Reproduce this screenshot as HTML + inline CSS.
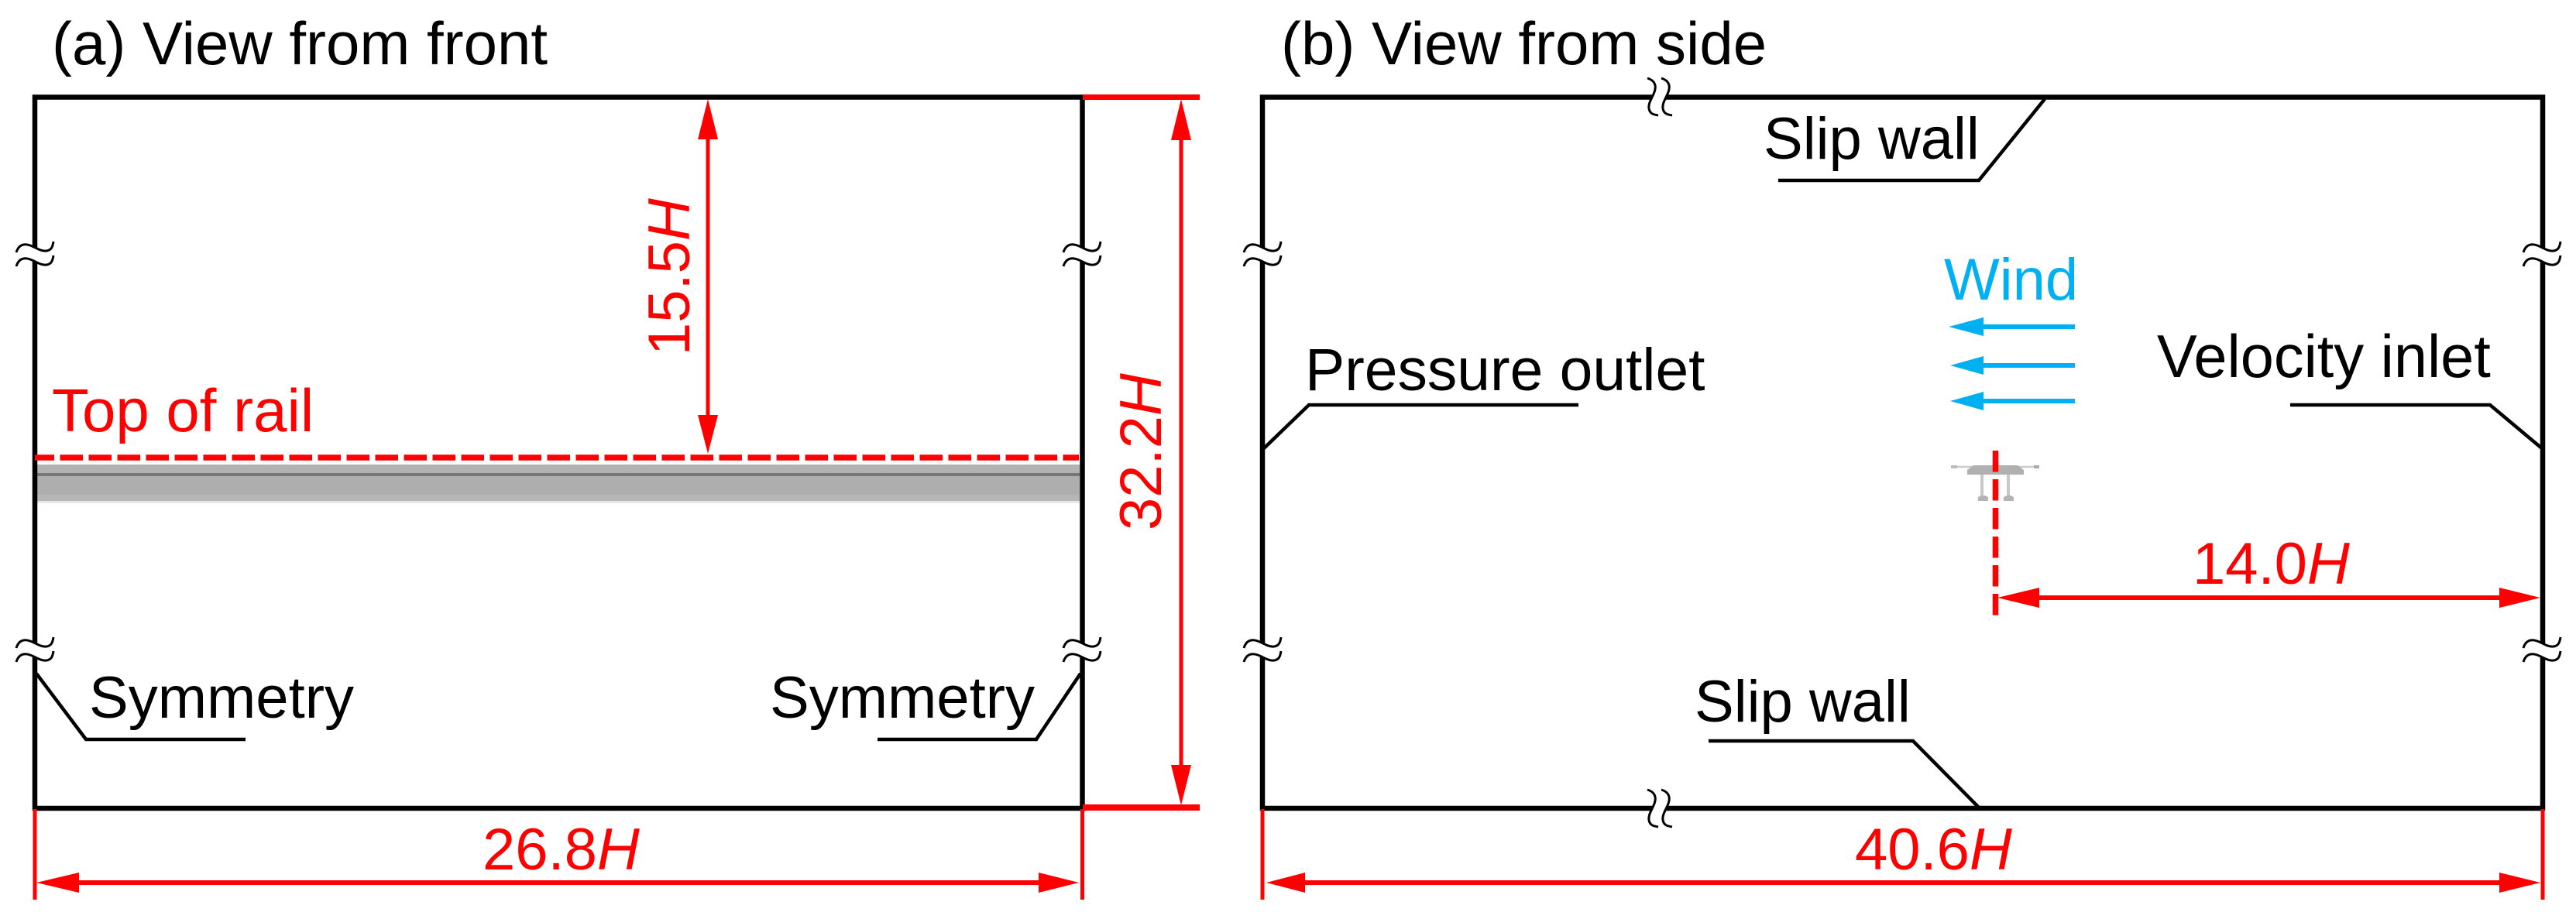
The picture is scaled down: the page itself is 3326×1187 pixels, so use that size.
<!DOCTYPE html>
<html>
<head>
<meta charset="utf-8">
<style>
html,body{margin:0;padding:0;background:#fff;width:3326px;height:1187px;overflow:hidden}
svg{display:block}
text{font-family:"Liberation Sans",Arial,sans-serif;font-size:76px}
.k{fill:#000}.r{fill:#f00}.b{fill:#00b0f0}
</style>
</head>
<body>
<svg width="3326" height="1187" viewBox="0 0 3326 1187" xmlns="http://www.w3.org/2000/svg">
<defs>
<g id="brk">
<rect x="-9" y="-9" width="18" height="18" fill="#fff"/>
<path d="M-24,-3 C-21,-13 -14,-15 -6,-12 S8,-4 15,-5 S23,-11 24,-17" fill="none" stroke="#000" stroke-width="3"/>
<path d="M-24,15 C-21,5 -14,3 -6,6 S8,14 15,13 S23,7 24,1" fill="none" stroke="#000" stroke-width="3"/>
</g>
</defs>
<rect width="3326" height="1187" fill="#fff"/>

<!-- rail band -->
<rect x="48" y="600" width="1346" height="11" fill="#b2b2b2"/>
<rect x="48" y="611" width="1346" height="4" fill="#777"/>
<rect x="48" y="615" width="1346" height="24" fill="#aeaeae"/>
<rect x="48" y="639" width="1346" height="8" fill="#b6b6b6"/>
<rect x="48" y="647" width="1346" height="3" fill="#e8e8e8"/>

<!-- frames -->
<rect x="45" y="125.5" width="1352.5" height="918.5" fill="none" stroke="#000" stroke-width="6.5"/>
<rect x="1630" y="125.5" width="1653" height="918.5" fill="none" stroke="#000" stroke-width="6.5"/>

<!-- breaks -->
<use href="#brk" transform="translate(45,329)"/>
<use href="#brk" transform="translate(45,840)"/>
<use href="#brk" transform="translate(1397,329)"/>
<use href="#brk" transform="translate(1397,840)"/>
<use href="#brk" transform="translate(1630,329)"/>
<use href="#brk" transform="translate(1630,840)"/>
<use href="#brk" transform="translate(3282,329)"/>
<use href="#brk" transform="translate(3282,840)"/>
<use href="#brk" transform="translate(2142,125) rotate(90)"/>
<use href="#brk" transform="translate(2142,1044) rotate(90)"/>

<!-- leaders -->
<g fill="none" stroke="#000" stroke-width="4.5">
<polyline points="47,870 111,955 317,955"/>
<polyline points="1395,870 1338,955 1133,955"/>
<polyline points="2640,128 2555,233 2296,233"/>
<polyline points="1632,579 1690,523 2038,523"/>
<polyline points="3283,580 3215,523 2957,523"/>
<polyline points="2555,1043 2470,957 2206,957"/>
</g>

<!-- titles and labels -->
<text class="k" x="67" y="83" style="font-size:78px">(a) View from front</text>
<text class="k" x="1654" y="83" style="font-size:78px">(b) View from side</text>
<text class="k" x="115" y="927">Symmetry</text>
<text class="k" x="994" y="927">Symmetry</text>
<text class="k" x="2277" y="205">Slip wall</text>
<text class="k" x="2188" y="932">Slip wall</text>
<text class="k" x="1685" y="504" style="font-size:76.8px">Pressure outlet</text>
<text class="k" x="2785" y="487" style="font-size:77.5px">Velocity inlet</text>
<text class="b" x="2510" y="387">Wind</text>
<text class="r" x="67" y="557" style="font-size:78px">Top of rail</text>
<text class="r" x="623" y="1123">26.8<tspan font-style="italic">H</tspan></text>
<text class="r" x="2395" y="1123">40.6<tspan font-style="italic">H</tspan></text>
<text class="r" x="2831" y="754">14.0<tspan font-style="italic">H</tspan></text>
<text class="r" transform="translate(890,459) rotate(-90)">15.5<tspan font-style="italic">H</tspan></text>
<text class="r" transform="translate(1499,685) rotate(-90)">32.2<tspan font-style="italic">H</tspan></text>

<!-- wind arrows -->
<g fill="#00b0f0">
<rect x="2555" y="419" width="124" height="6"/>
<rect x="2555" y="469" width="124" height="6"/>
<rect x="2555" y="515" width="124" height="6"/>
<polygon points="2516,422 2561,410 2561,434"/>
<polygon points="2518,472 2561,460 2561,484"/>
<polygon points="2518,518 2561,506 2561,530"/>
</g>

<!-- drone -->
<g>
<line x1="2523" y1="603" x2="2630" y2="603" stroke="#ccc" stroke-width="2.5"/>
<rect x="2519" y="601" width="8" height="4" fill="#bbb"/>
<rect x="2626" y="601" width="7" height="4" fill="#aaa"/>
<polygon points="2540,613 2540,607 2548,601 2605,601 2613,607 2613,613" fill="#b0b0b0"/>
<rect x="2557" y="613" width="4" height="28" fill="#c8c8c8"/>
<rect x="2591" y="613" width="4" height="28" fill="#c8c8c8"/>
<polygon points="2554,647 2554,642 2558,640 2563,640 2567,642 2567,647" fill="#b4b4b4"/>
<polygon points="2587,647 2587,642 2591,640 2596,640 2600,642 2600,647" fill="#b4b4b4"/>
</g>

<!-- dashed red -->
<line x1="45" y1="591" x2="1393" y2="591" stroke="#f00" stroke-width="7.5" stroke-dasharray="29.5 7.5" stroke-dashoffset="4.5"/>
<line x1="2576.5" y1="582" x2="2576.5" y2="795" stroke="#f00" stroke-width="7.5" stroke-dasharray="27.5 9.5"/>

<!-- red dimensions -->
<g fill="#f00">
<!-- 15.5H -->
<rect x="911.5" y="170" width="5" height="375"/>
<polygon points="914,128 901,180 927,180"/>
<polygon points="914,586 901,536 927,536"/>
<!-- 32.2H -->
<rect x="1522.5" y="170" width="5" height="830"/>
<rect x="1398" y="122" width="151" height="7"/>
<rect x="1398" y="1039" width="151" height="8"/>
<polygon points="1525,128 1512,181 1538,181"/>
<polygon points="1525,1040 1512,988 1538,988"/>
<!-- 26.8H -->
<rect x="42.5" y="1045" width="5" height="117"/>
<rect x="1395" y="1045" width="5" height="117"/>
<rect x="95" y="1137" width="1255" height="6"/>
<polygon points="47,1140 102,1127 102,1153"/>
<polygon points="1393,1140 1341,1127 1341,1153"/>
<!-- 40.6H -->
<rect x="1627.5" y="1045" width="5" height="117"/>
<rect x="3280.5" y="1045" width="5" height="117"/>
<rect x="1680" y="1137" width="1555" height="6"/>
<polygon points="1635,1140 1685,1127 1685,1153"/>
<polygon points="3280,1140 3227,1127 3227,1153"/>
<!-- 14.0H -->
<rect x="2625" y="769" width="610" height="6"/>
<polygon points="2579,772 2633,759 2633,785"/>
<polygon points="3280,772 3227,759 3227,785"/>
</g>
</svg>
</body>
</html>
